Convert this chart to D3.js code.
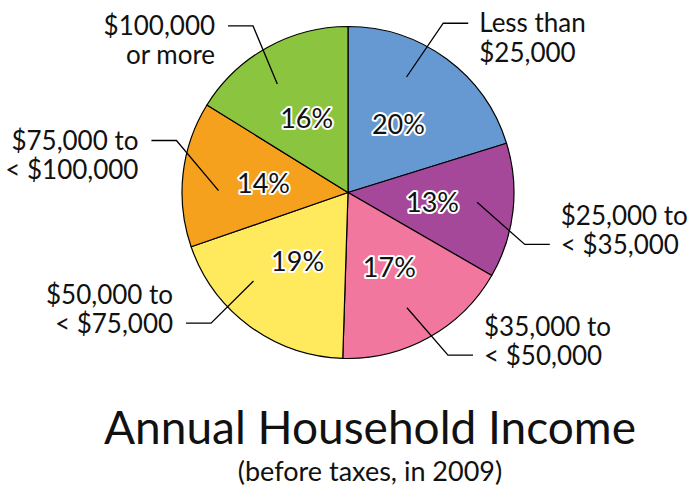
<!DOCTYPE html>
<html>
<head>
<meta charset="utf-8">
<script src="https://cdn.jsdelivr.net/npm/d3@7"></script>
<style>
    body { margin: 0; background: #fff; }
    text { font-family: Lato, "Open Sans", sans-serif; fill: #111; }
</style>
</head>
<body>
<div id="container"></div>
<script>
// income brackets, clockwise from 12 o'clock
const categories = ["Less than\n$25,000", "$25,000 to\n< $35,000", "$35,000 to\n< $50,000",
    "$50,000 to\n< $75,000", "$75,000 to\n< $100,000", "$100,000\nor more"];
const shares = [20, 13, 17, 19, 14, 16];
const sliceColors = ["#6699d1", "#a6489a", "#f2779f", "#ffea5e", "#f6a11e", "#8bc43f"];

// leader lines: degrees nudged off the slice middle [start, elbow], elbow reach in radii
const leaderTurn = [[-9.5, -7, 1.17], [-2, 10, 1.11], [2, -2.5, 1.15],
    [10.5, 10, 1.14], [-5.5, 10.5, 1.08], [-4, -0.6, 1.155]];

const width = 690, height = 487;
const cx = 348, cy = 192.5, radius = 166;

const svg = d3.select("#container").append("svg")
    .attr("width", width)
    .attr("height", height);

const pie = d3.pie().sort(null).value(d => d.value);
const arcs = pie(shares.map((v, i) => ({ value: v, name: categories[i], color: sliceColors[i], turn: leaderTurn[i] })));

const arc = d3.arc().innerRadius(0).outerRadius(radius);
const labelArc = d3.arc().innerRadius(85).outerRadius(85);

const g = svg.append("g").attr("transform", `translate(${cx},${cy})`);

g.selectAll("path.slice")
    .data(arcs)
    .enter()
    .append("path")
    .attr("class", "slice")
    .attr("d", arc)
    .attr("fill", d => d.data.color)
    .attr("stroke", "#000")
    .attr("stroke-width", 1.2)
    .attr("stroke-linejoin", "round");

function polar(angle, r) {
    return [r * Math.sin(angle), -r * Math.cos(angle)];
}
const rad = deg => deg * Math.PI / 180;

// leader lines + bracket labels
const run = 25, gap = 11, lineH = 29.5;
arcs.forEach(d => {
    const mid = (d.startAngle + d.endAngle) / 2;
    const p0 = polar(mid + rad(d.data.turn[0]), radius * 0.78);
    const p1 = polar(mid + rad(d.data.turn[1]), radius * d.data.turn[2]);
    const right = p1[0] > 0;
    const p2 = [p1[0] + (right ? run : -run), p1[1]];

    g.append("polyline")
        .attr("points", [p0, p1, p2].map(p => p.join(",")).join(" "))
        .attr("fill", "none")
        .attr("stroke", "#000")
        .attr("stroke-width", 1.3);

    const lines = d.data.name.split("\n");
    // upper labels hang off their first line, lower ones off their last
    const y0 = p1[1] < 0 ? p1[1] + 9 : p1[1] + 10 - lineH * (lines.length - 1);
    const t = g.append("text")
        .attr("text-anchor", right ? "start" : "end")
        .attr("font-size", 26);
    lines.forEach((ln, i) => {
        t.append("tspan")
            .attr("x", p2[0] + (right ? gap : -gap - 2))
            .attr("y", y0 + i * lineH)
            .text(ln);
    });
});

// percent labels with white halo
g.selectAll("text.pct")
    .data(arcs)
    .enter()
    .append("text")
    .attr("class", "pct")
    .attr("transform", d => `translate(${labelArc.centroid(d)})`)
    .attr("text-anchor", "middle")
    .attr("dy", "0.36em")
    .attr("font-size", 27)
    .attr("stroke", "#fff")
    .attr("stroke-width", 4)
    .attr("stroke-linejoin", "round")
    .attr("paint-order", "stroke")
    .text(d => d.data.value + "%");

svg.append("text")
    .attr("x", 370)
    .attr("y", 444)
    .attr("text-anchor", "middle")
    .attr("font-size", 46)
    .text("Annual Household Income");

svg.append("text")
    .attr("x", 370)
    .attr("y", 480.5)
    .attr("text-anchor", "middle")
    .attr("font-size", 27)
    .text("(before taxes, in 2009)");
</script>
</body>
</html>
